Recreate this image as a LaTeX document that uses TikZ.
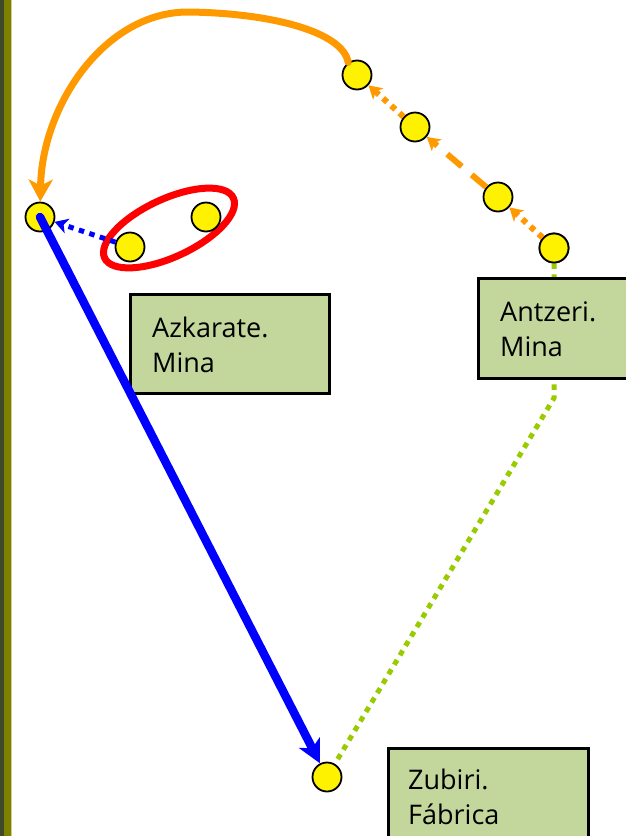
\documentclass[tikz,border=0pt]{standalone}
\usepackage{fontspec}
\setmainfont{Open Sans}
\usetikzlibrary{arrows.meta}
\definecolor{boxgreen}{HTML}{C3D69B}
\definecolor{orng}{HTML}{FF9900}
\definecolor{lgreen}{HTML}{99CC00}
\definecolor{olivebar}{HTML}{808000}
\definecolor{darkbar}{HTML}{3E4A2A}
\tikzset{
  spot/.style={circle,draw=black,line width=1.8pt,fill=yellow,minimum size=29pt,inner sep=0pt},
  lbox/.style={draw=black,line width=2.5pt,fill=boxgreen},
  lbl/.style={anchor=base west,align=left,font=\fontsize{27}{35}\selectfont,inner sep=0pt},
  bigtip/.style={-{Stealth[length=22pt,width=24pt,inset=6pt]}},
  smalltip/.style={-{Stealth[length=13pt,width=15pt,inset=3.5pt]}},
  dotline/.style={dash pattern=on 5.5pt off 5.5pt,line cap=butt},
}
\begin{document}
\begin{tikzpicture}[x=1pt,y=-1pt]
\useasboundingbox (0,0) rectangle (626,836);
\clip (0,0) rectangle (626,836);
\fill[white] (0,0) rectangle (626,836);
% left strip
\fill[darkbar] (0,0) rectangle (3.5,836);
\fill[olivebar] (3.5,0) rectangle (11,836);
\fill[olivebar!40] (11,0) rectangle (12,836);
% green dotted connector (behind boxes)
\node[spot] (G) at (554,248) {};
\node[spot] (Z) at (327,777) {};
\coordinate (bend) at (554,398);
\draw[lgreen,line width=5pt,dotline] (G) -- (bend) -- (Z);
% boxes
\node[lbox,minimum width=199pt,minimum height=99pt,anchor=north west,inner sep=0pt] (azb) at (129,293) {};
\node[lbox,minimum width=170pt,minimum height=100pt,anchor=north west,inner sep=0pt] (anb) at (477,277) {};
\node[lbox,minimum width=200pt,minimum height=110pt,anchor=north west,inner sep=0pt] (zub) at (387,747) {};
\node[lbl] (azt) at (152,372) {Azkarate.\\Mina};
\node[lbl] (ant) at (500,356) {Antzeri.\\Mina};
\node[lbl] (zut) at (408,824) {Zubiri.\\Fábrica};
% red ellipse
\draw[red,line width=7pt,rotate around={25:(169,228)}] (169,228) ellipse [x radius=71, y radius=29];
% spots
\node[spot] (A) at (40,217) {};
\node[spot] (B) at (130,247) {};
\node[spot] (C) at (206,217) {};
\node[spot] (D) at (357,75) {};
\node[spot] (E) at (415,127) {};
\node[spot] (F) at (498,197) {};
\node[spot] (G2) at (554,248) {};
% orange chain
\draw[orng,line width=6pt,dotline,smalltip] (G2) -- (F);
\draw[orng,line width=6pt,dash pattern=on 19pt off 13pt,line cap=butt,smalltip] (F) -- (E);
\draw[orng,line width=6pt,dotline,smalltip] (E) -- (D);
\draw[orng,line width=7pt,line cap=round,bigtip] (D.125) .. controls (343,32) and (272,13) .. (188,12) .. controls (105,12) and (42,105) .. (A);
% blue
\draw[blue,line width=5pt,dotline,smalltip] (B) -- (A);
\draw[blue,line width=8.5pt,line cap=round,-{Stealth[length=23pt,width=23pt,inset=6pt]}] (A.center) -- (Z);
\end{tikzpicture}
\end{document}
